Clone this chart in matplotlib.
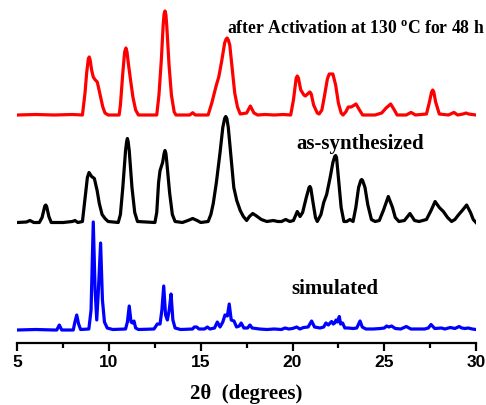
import numpy as np
import matplotlib
matplotlib.use('Agg')
import matplotlib.pyplot as plt
from matplotlib.ticker import MultipleLocator

plt.rcParams['mathtext.fontset'] = 'custom'
plt.rcParams['mathtext.rm'] = 'Liberation Serif:bold'
plt.rcParams['mathtext.bf'] = 'Liberation Serif:bold'

# PXRD patterns (2theta in degrees, intensity in arbitrary units)
act_2theta = [5.0, 6.0, 7.0, 8.0, 8.55, 8.69, 8.78, 8.87, 8.92, 8.97, 9.05, 9.14, 9.25, 9.36, 9.54, 9.66,
              9.78, 9.95, 10.55, 10.62, 10.75, 10.85, 10.92, 10.98, 11.05, 11.15, 11.3, 11.45, 11.6,
              12.6, 12.72, 12.85, 12.95, 13.0, 13.05, 13.1, 13.15, 13.27, 13.4, 13.55, 13.65,
              14.4, 14.56, 14.7, 15.4, 15.6, 15.85, 15.98, 16.15, 16.3, 16.38, 16.44, 16.5, 16.58,
              16.72, 16.85, 17.0, 17.15, 17.5, 17.7, 17.9, 18.1, 18.5, 19.0, 19.5, 19.9, 20.05, 20.2,
              20.26, 20.32, 20.45, 20.62, 20.7, 20.88, 20.95, 21.02, 21.15, 21.35, 21.45, 21.6, 21.75,
              21.9, 22.0, 22.2, 22.35, 22.5, 22.65, 22.75, 22.9, 23.04, 23.2, 23.46, 23.65, 23.82,
              24.5, 24.86, 25.1, 25.35, 25.55, 25.7, 26.2, 26.46, 26.7, 27.3, 27.45, 27.58, 27.64,
              27.7, 27.8, 28.0, 28.5, 28.8, 29.0, 29.3, 29.45, 29.6, 30.0]
act_int = [0, 0.5, 0, 0.5, 0, 22, 42, 56, 58, 55, 45, 38, 35, 33, 18, 8,
           2, 0, 0, 10, 42, 63, 67, 63, 52, 38, 18, 5, 0,
           0, 20, 55, 90, 101, 104, 100, 88, 50, 20, 3, 0,
           0, 2.3, 0, 0, 12, 30, 38, 55, 72, 76, 77, 75, 70,
           45, 22, 8, 1, 2, 9, 2, 0, 0.5, 0, 0.5, 0, 15, 37,
           39, 37, 25, 20, 19, 22, 23, 21, 10, 2, 1, 5, 20,
           36, 41, 41, 30, 12, 2, 0, 3, 8, 8, 11, 5, 0,
           0, 2, 7, 11, 5, 0, 0, 2.6, 0, 1, 12, 23, 25,
           23, 13, 1, 0, 2.6, 0, 1, 2, 1, 0]

syn_2theta = [5.0, 5.5, 5.69, 5.9, 6.2, 6.35, 6.5, 6.55, 6.6, 6.72, 6.85, 7.5, 8.0, 8.14, 8.3, 8.55,
              8.7, 8.82, 8.91, 9.05, 9.2, 9.35, 9.47, 9.62, 9.78, 9.95, 10.5, 10.62, 10.75, 10.9,
              10.96, 11.0, 11.04, 11.1, 11.25, 11.4, 11.55, 12.5, 12.6, 12.7, 12.78, 12.92, 13.0,
              13.05, 13.1, 13.15, 13.3, 13.45, 13.6, 14.0, 14.3, 14.56, 14.8, 15.0, 15.4, 15.55,
              15.68, 15.85, 16.05, 16.2, 16.3, 16.36, 16.42, 16.5, 16.65, 16.8, 16.96, 17.15, 17.32,
              17.5, 17.65, 17.83, 18.0, 18.3, 18.6, 18.95, 19.2, 19.4, 19.63, 19.85, 20.05, 20.26,
              20.41, 20.55, 20.75, 20.9, 20.95, 21.0, 21.1, 21.25, 21.35, 21.55, 21.7, 21.86, 22.05,
              22.2, 22.3, 22.35, 22.4, 22.5, 22.65, 22.8, 22.95, 23.13, 23.3, 23.45, 23.6, 23.72,
              23.77, 23.82, 23.95, 24.1, 24.3, 24.5, 24.73, 24.95, 25.22, 25.45, 25.6, 25.8, 26.1,
              26.4, 26.65, 26.9, 27.3, 27.55, 27.77, 28.0, 28.22, 28.45, 28.67, 28.85, 29.04, 29.25,
              29.49, 29.7, 29.85, 30.0]
syn_int = [0, 0.5, 2, 0, 0, 5, 16.5, 17.5, 16, 6, 0, 0, 1, 2, 0, 1,
           25, 45, 50, 46, 44, 32, 19, 8, 4, 1, 0, 8, 35, 72,
           81, 84, 81, 72, 35, 10, 1, 0, 10, 40, 52, 60, 69,
           72, 69, 60, 30, 8, 1, 0, 2, 4, 2, 0, 1, 8,
           19, 40, 70, 95, 104, 106, 104, 95, 65, 35, 22, 12, 6,
           2, 6, 9, 7, 3, 1, 2, 1, 1, 3, 1, 2, 11,
           6, 10, 25, 35, 36, 34, 22, 5, 1, 8, 20, 28, 45,
           60, 66, 67, 65, 45, 15, 1, 1, 3, 1, 15, 35, 42,
           43, 42, 35, 18, 3, 1, 2, 12, 26, 15, 5, 1, 2,
           9, 2, 1, 3, 12, 21, 15, 11, 5, 1, 3, 7.5, 12,
           17.5, 10, 3, 0]

sim_2theta = [5.0, 6.0, 7.0, 7.15, 7.29, 7.42, 8.05, 8.14, 8.24, 8.34, 8.45, 8.9, 9.02, 9.14, 9.24,
              9.33, 9.42, 9.54, 9.64, 9.75, 9.9, 10.2, 10.9, 11.0, 11.1, 11.2, 11.28, 11.36, 11.45,
              11.6, 12.45, 12.63, 12.78, 12.88, 12.98, 13.08, 13.18, 13.28, 13.38, 13.48, 13.6, 13.9,
              14.55, 14.65, 14.78, 14.9, 15.2, 15.36, 15.5, 15.75, 15.9, 16.05, 16.2, 16.32, 16.45,
              16.55, 16.66, 16.81, 16.95, 17.1, 17.2, 17.35, 17.55, 17.68, 17.8, 18.2, 18.6, 19.0,
              19.4, 19.59, 19.8, 20.0, 20.23, 20.4, 20.6, 20.85, 21.04, 21.2, 21.5, 21.7, 21.82,
              21.95, 22.05, 22.13, 22.22, 22.3, 22.37, 22.45, 22.55, 22.62, 22.73, 22.85, 23.04,
              23.3, 23.5, 23.68, 23.8, 24.0, 24.4, 24.8, 25.0, 25.13, 25.25, 25.4, 25.6, 25.9, 26.2,
              26.45, 26.8, 27.2, 27.4, 27.55, 27.75, 28.12, 28.3, 28.6, 28.85, 29.08, 29.22, 29.4,
              29.57, 29.8, 30.0]
sim_int = [0, 0.5, 0, 0, 5, 0, 0, 8, 15, 6, 0.5, 1, 20, 108, 40,
           10, 40, 87, 30, 8, 2, 0.5, 1, 8, 24, 8, 7, 9, 2,
           0.5, 1, 6, 6, 20, 44, 15, 10, 20, 36, 10, 2, 0.5,
           1, 3, 3, 1, 1, 3, 1, 2, 8, 3, 8, 15, 14,
           26, 10, 9, 3, 4, 7, 2, 2, 5, 2, 1, 0.5, 1,
           0.5, 2, 1, 1.5, 3, 1, 2.5, 3, 9, 3, 2, 3, 7,
           5, 7, 8.5, 6, 7, 10, 8, 13.5, 6, 7, 2, 2,
           1.5, 2, 9, 3, 1, 1, 1.5, 2, 4, 3, 4, 1.5, 1, 3.5,
           1, 1, 1, 2, 5.5, 1.5, 2, 1, 2.5, 1.5, 3.5, 2, 1.5,
           2, 1, 0.5]

labels = ['simulated', 'as-synthesized', r'after Activation at 130 $^{\mathrm{o}}$C for 48 h']
offsets = [12.7, 120.2, 227.7]
colors = ['#0000ff', '#000000', '#ff0000']

fig = plt.figure(figsize=(4.86, 4.05), dpi=100)
ax = fig.add_axes([17.3 / 486, 62.3 / 405, 458.7 / 486, 337.7 / 405])

series = [(sim_2theta, sim_int), (syn_2theta, syn_int), (act_2theta, act_int)]
for (tt, ii), off, c in zip(series, offsets, colors):
    ax.plot(tt, np.array(ii) + off, color=c, lw=2.3, solid_joinstyle='round')

serif = 'Liberation Serif'
ax.text(22.31, 48.7, labels[0], ha='center', va='baseline', fontsize=15,
        fontweight='bold', family=serif)
ax.text(23.68, 193.4, labels[1], ha='center', va='baseline', fontsize=15,
        fontweight='bold', family=serif)
ax.text(23.43, 308.4, labels[2], ha='center', va='baseline', fontsize=12.7,
        fontweight='bold', family=serif)

ax.set_xlim(5, 30)
ax.set_ylim(0, 337.7)
for s in ['left', 'right', 'top']:
    ax.spines[s].set_visible(False)
ax.spines['bottom'].set_linewidth(1.6)
ax.set_yticks([])
ax.xaxis.set_major_locator(MultipleLocator(5))
ax.xaxis.set_minor_locator(MultipleLocator(2.5))
ax.tick_params(axis='x', which='major', direction='out', length=6, width=1.6, pad=3)
ax.tick_params(axis='x', which='minor', direction='out', length=3.5, width=1.6)
for lab in ax.get_xticklabels():
    lab.set_fontfamily('Liberation Sans')
    lab.set_fontweight('bold')
    lab.set_fontsize(12.5)
ax.set_xlabel(r'2θ  (degrees)', fontsize=15, fontweight='bold', family=serif, labelpad=10)

fig.savefig('out.png', dpi=100)
